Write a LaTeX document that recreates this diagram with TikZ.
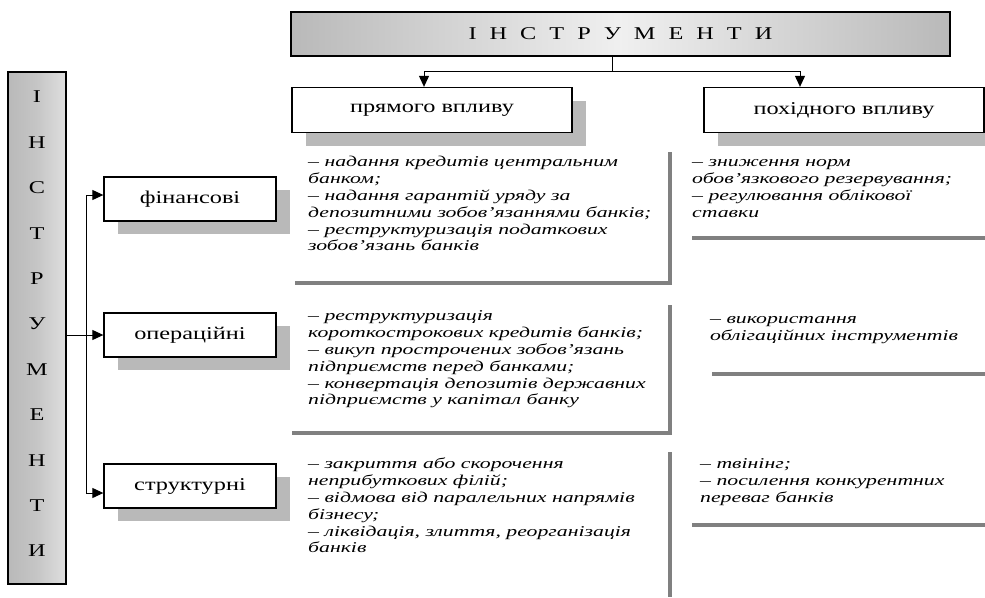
\documentclass[tikz,border=0pt]{standalone}
\usepackage{fontspec}
\setmainfont{Liberation Serif}
\newfontfamily\boxfont[FakeStretch=1.35]{Liberation Serif}
\newfontfamily\listfont[FakeStretch=1.45]{Liberation Serif}
\usetikzlibrary{arrows.meta,positioning,calc,shadows}

\newcommand{\hs}{\hspace{13pt}}

\tikzset{
  box/.style={draw=black, line width=1.3pt, fill=white, minimum width=280pt,
    minimum height=45pt, inner sep=0pt, font=\boxfont\fontsize{18}{20}\selectfont,
    drop shadow={shadow xshift=14pt, shadow yshift=-13pt, fill=gray!55, opacity=1}},
  items/.style={anchor=north west, inner sep=0pt, align=left,
    font=\listfont\itshape\fontsize{15}{16.8}\selectfont},
  shade line/.style={draw=gray, line width=3.5pt},
  arr/.style={-{Triangle[length=11pt,width=10pt]}, line width=1pt},
  letter/.style={font=\boxfont\fontsize{18}{20}\selectfont, inner sep=0pt}
}

\begin{document}
\begin{tikzpicture}[x=1pt, y=-1pt]
    \useasboundingbox (0,0) rectangle (985,597);
    \clip (0,0) rectangle (985,597);

    % header boxes
    \node[draw=black, line width=1.3pt, minimum width=659pt, minimum height=44pt,
      inner sep=0pt, left color=gray!55, right color=gray!55, middle color=gray!12,
      font=\boxfont\fontsize{18}{20}\selectfont]
      (instr) at (620.5,34) {І\hs Н\hs С\hs Т\hs Р\hs У\hs М\hs Е\hs Н\hs Т\hs И};
    \node[draw=black, line width=1.3pt, minimum width=58pt, minimum height=512pt,
      inner sep=0pt, left color=gray!55, right color=gray!25, middle color=gray!45]
      (instrv) at (37,328) {};
    \foreach \l [count=\i from 0] in {І,Н,С,Т,Р,У,М,Е,Н,Т,И}
        \node[letter] (v\i) at (37,{97+45.4*\i}) {\l};

    \node[box] (direct) at (432,110) {прямого впливу};
    \node[box] (derived) at (844,110) {похідного впливу};
    \node[box, minimum width=172pt, minimum height=44pt] (fin) at (190,199) {фінансові};
    \node[box, minimum width=172pt, minimum height=44pt] (oper) at (190,335) {операційні};
    \node[box, minimum width=172pt, minimum height=44pt] (struct) at (190,486) {структурні};

    % connectors
    \coordinate (j) at (612,71);
    \coordinate (jl) at (424,71);
    \coordinate (jr) at (800,71);
    \draw[line width=1pt] (instr.south -| j) -- (j);
    \draw[line width=1pt] (jl) -- (jr);
    \draw[arr] (jl) -- (jl |- direct.north);
    \draw[arr] (jr) -- (jr |- derived.north);

    \coordinate (t1) at (86,195);
    \coordinate (t3) at (86,493);
    \draw[line width=1pt] (t1) -- (t3);
    \draw[arr] (t1) -- (t1 -| fin.west);
    \draw[arr] (instrv.east |- oper) -- (oper.west);
    \draw[arr] (t3) -- (t3 -| struct.west);

    % shadow frames of the lists
    \draw[shade line] (295,283) -| (670,152);
    \draw[shade line] (692,238) -- (985,238);
    \draw[shade line] (292,433) -| (670,305);
    \draw[shade line] (712,374) -- (985,374);
    \draw[shade line] (670,452) -- (670,597);
    \draw[shade line] (692,525) -- (985,525);

    % lists
    \node[items] (fin-direct) at (308,155) {\strut– надання кредитів центральним\\
        банком;\\– надання гарантій уряду за\\депозитними зобов’язаннями банків;\\
        – реструктуризація податкових\\зобов’язань банків};
    \node[items] (fin-derived) at (692,155) {\strut– зниження норм\\
        обов’язкового резервування;\\– регулювання облікової\\ставки};
    \node[items] (oper-direct) at (308,309) {\strut– реструктуризація\\
        короткострокових кредитів банків;\\– викуп прострочених зобов’язань\\
        підприємств перед банками;\\– конвертація депозитів державних\\
        підприємств у капітал банку};
    \node[items] (oper-derived) at (710,312) {\strut– використання\\
        облігаційних інструментів};
    \node[items] (struct-direct) at (308,457) {\strut– закриття або скорочення\\
        неприбуткових філій;\\– відмова від паралельних напрямів\\бізнесу;\\
        – ліквідація, злиття, реорганізація\\банків};
    \node[items] (struct-derived) at (700,457) {\strut– твінінг;\\
        – посилення конкурентних\\переваг банків};
\end{tikzpicture}
\end{document}
